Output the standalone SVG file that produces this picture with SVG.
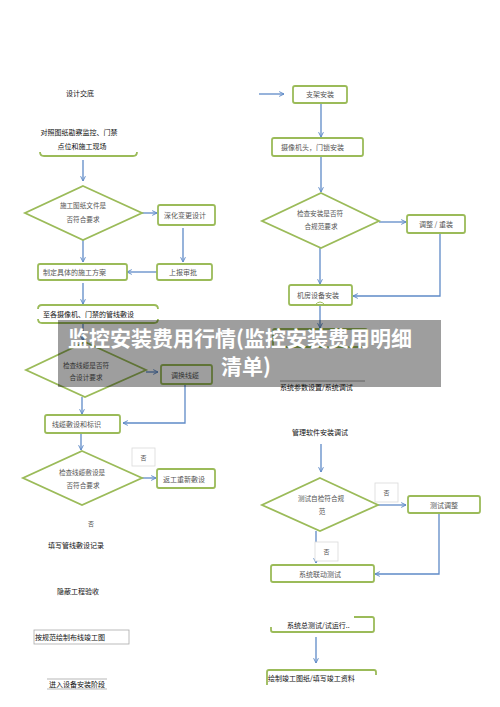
<svg xmlns="http://www.w3.org/2000/svg" width="500" height="707" viewBox="0 0 500 707">
<style>
.bx{fill:#fff;stroke:#9bbb59;stroke-width:1.8}
.gl{fill:none;stroke:#9bbb59;stroke-width:1.8}
.dm{fill:#fff;stroke:#9bbb59;stroke-width:1.8}
.cn{fill:none;stroke:#5f8ac7;stroke-width:1.3}
.t{font-family:"Noto Sans CJK SC","Noto Sans",sans-serif;font-size:7px;fill:#555}
.k{font-family:"Noto Sans CJK SC","Noto Sans",sans-serif;font-size:7px;fill:#111}
.m{text-anchor:middle}
.no{fill:#fff;stroke:#d9d9d9;stroke-width:0.8}
.bn{font-family:"Noto Sans CJK SC","Noto Sans",sans-serif;font-size:21px;font-weight:bold;fill:#fff;text-anchor:middle}
</style>
<defs>
<marker id="ah" viewBox="0 0 10 10" refX="9" refY="5" markerWidth="6" markerHeight="6" orient="auto" markerUnits="userSpaceOnUse">
<path d="M1,1 L9,5 L1,9" fill="none" stroke="#5f8ac7" stroke-width="1.6"/>
</marker>
</defs>

<g id="connectors">
<path class="cn" d="M259,94 H284" marker-end="url(#ah)"/>
<path class="cn" d="M83,160 V181" marker-end="url(#ah)"/>
<path class="cn" d="M142,213 H157" marker-end="url(#ah)"/>
<path class="cn" d="M183,228 V262" marker-end="url(#ah)"/>
<path class="cn" d="M157,272 H127" marker-end="url(#ah)"/>
<path class="cn" d="M83,240 V262" marker-end="url(#ah)"/>
<path class="cn" d="M83,283 V304" marker-end="url(#ah)"/>
<path class="cn" d="M83,323 V341" marker-end="url(#ah)"/>
<path class="cn" d="M146,372 H158" marker-end="url(#ah)"/>
<path class="cn" d="M185,384 V423 H123" marker-end="url(#ah)"/>
<path class="cn" d="M82,397 V414" marker-end="url(#ah)"/>
<path class="cn" d="M81,433 V450" marker-end="url(#ah)"/>
<path class="cn" d="M142,478 H156" marker-end="url(#ah)"/>
<path class="cn" d="M321,103 V137" marker-end="url(#ah)"/>
<path class="cn" d="M321,156 V192" marker-end="url(#ah)"/>
<path class="cn" d="M379,222 H406" marker-end="url(#ah)"/>
<path class="cn" d="M440,233 V296 H353" marker-end="url(#ah)"/>
<path class="cn" d="M320,248 V284" marker-end="url(#ah)"/>
<path class="cn" d="M320,305 V328" marker-end="url(#ah)"/>
<path class="cn" d="M321,444 V472" marker-end="url(#ah)"/>
<path class="cn" d="M378,505 H406" marker-end="url(#ah)"/>
<path class="cn" d="M439,513 V574 H375" marker-end="url(#ah)"/>
<path class="cn" d="M316,531 V563" marker-end="url(#ah)"/>
<path class="cn" d="M316,637 V663" marker-end="url(#ah)"/>
</g>

<g id="n-design"><text class="k m" x="80" y="95.5">设计交底</text></g>
<g id="n-survey">
<text class="k m" x="79" y="134.5">对照图纸勘察监控、门禁</text>
<text class="k m" x="82" y="148.5">点位和施工现场</text>
<path class="gl" d="M40,152 Q40,156 44,156 L133,156 Q137,156 137,152"/>
</g>
<g id="n-check-drawings">
<polygon class="dm" points="83,186 142,213 83,240 25,213"/>
<text class="t m" x="83" y="207.5" style="font-size:6.6px">施工图纸文件是</text>
<text class="t m" x="83" y="221.5" style="font-size:6.6px">否符合要求</text>
</g>
<g id="n-deepen"><rect class="bx" x="158" y="205" width="57" height="20" rx="2"/><text class="t m" x="185" y="218">深化变更设计</text></g>
<g id="n-approve"><rect class="bx" x="157" y="264" width="55" height="16" rx="2"/><text class="t m" x="183" y="274.5">上报审批</text></g>
<g id="n-plan"><rect class="bx" x="38" y="264" width="89" height="16" rx="2"/><text class="t" x="43" y="274.5">制定具体的施工方案</text></g>
<g id="n-conduit">
<path class="gl" d="M38,309 Q38,305 42,305 L154,305 Q158,305 158,309"/>
<path class="gl" d="M38,319 Q38,323 42,323 L154,323 Q158,323 158,319"/>
<text class="k" x="43" y="316.5">至各摄像机、门禁的管线敷设</text>
</g>
<g id="n-check-cable">
<polygon class="dm" points="85,342 146,370 85,397 26,370"/>
<text class="t m" x="86" y="367.5" style="font-size:6.6px">检查线缆是否符</text>
<text class="t m" x="86" y="379.5" style="font-size:6.6px">合设计要求</text>
</g>
<g id="n-swap"><rect class="bx" x="161" y="365" width="51" height="19" rx="2"/><text class="t m" x="185" y="377.5">调换线缆</text></g>
<g id="n-lay"><rect class="bx" x="45" y="415" width="75" height="18" rx="2"/><text class="t" x="52" y="426.5">线缆敷设和标识</text></g>
<g id="n-check-lay">
<polygon class="dm" points="82,451 142,478 82,505 23,478"/>
<text class="t m" x="82" y="474.5" style="font-size:6.6px">检查线缆敷设是</text>
<text class="t m" x="83" y="487.5" style="font-size:6.6px">否符合要求</text>
</g>
<g id="n-no1"><rect class="no" x="132" y="448" width="23" height="18"/><text class="t m" x="143.5" y="459.5" style="font-size:6px">否</text></g>
<g id="n-rework"><rect class="bx" x="157" y="469" width="58" height="19" rx="2"/><text class="t m" x="184" y="481.5">返工重新敷设</text></g>
<g id="n-no2"><text class="t m" x="91" y="526" style="font-size:6px">否</text></g>
<g id="n-record"><text class="k m" x="76" y="547.5">填写管线敷设记录</text></g>
<g id="n-hidden"><text class="k m" x="78" y="593.5">隐蔽工程验收</text></g>
<g id="n-asbuilt"><rect x="34" y="630" width="95" height="14" fill="#fff" stroke="#aaa" stroke-width="0.8"/><text class="k" x="35" y="639.5">按规范绘制布线竣工图</text></g>
<g id="n-enter">
<line x1="47" y1="679" x2="107" y2="679" stroke="#999" stroke-width="0.7"/>
<line x1="47" y1="689" x2="107" y2="689" stroke="#999" stroke-width="0.7"/>
<text class="k m" x="77" y="686.5">进入设备安装阶段</text>
</g>

<g id="n-bracket"><rect class="bx" x="293" y="86" width="54" height="17" rx="2"/><text class="t m" x="320" y="97">支架安装</text></g>
<g id="n-camera"><rect class="bx" x="272" y="138" width="91" height="18" rx="2"/><text class="t" x="281" y="149.5">摄像机头，门锁安装</text></g>
<g id="n-check-install">
<polygon class="dm" points="321,193 379,221 321,248 262,221"/>
<text class="t m" x="320" y="215.5" style="font-size:6.6px">检查安装是否符</text>
<text class="t m" x="321" y="228.5" style="font-size:6.6px">合规范要求</text>
</g>
<g id="n-adjust"><rect class="bx" x="407" y="215" width="58" height="18" rx="2"/><text class="t m" x="436" y="227">调整 / 重装</text></g>
<g id="n-room"><rect class="bx" x="289" y="285" width="63" height="20" rx="2"/><text class="t m" x="318" y="298">机房设备安装</text><path class="gl" d="M315,305 Q320,299 325,305" style="stroke-width:1"/></g>
<g id="n-hiddenbox"><rect class="bx" x="273" y="329" width="94" height="18" rx="2"/></g>
<g id="n-params">
<line x1="280" y1="381" x2="365" y2="381" stroke="#888" stroke-width="0.8"/>
<text class="k" x="280" y="389.5">系统参数设置/系统调试</text>
</g>
<g id="n-software"><text class="k m" x="320" y="434.5">管理软件安装调试</text></g>
<g id="n-selftest">
<polygon class="dm" points="320,478 378,505 320,531 262,505"/>
<text class="t m" x="321" y="500.5" style="font-size:6.6px">测试自检符合规</text>
<text class="t m" x="322" y="513.5" style="font-size:6.6px">范</text>
</g>
<g id="n-no3"><rect class="no" x="375" y="483" width="23" height="19"/><text class="t m" x="386.5" y="495" style="font-size:6px">否</text></g>
<g id="n-testadj"><rect class="bx" x="408" y="496" width="72" height="17" rx="2"/><text class="t m" x="444" y="507.5">测试调整</text></g>
<g id="n-no4"><rect class="no" x="315" y="542" width="23" height="19"/><text class="t m" x="326.5" y="554" style="font-size:6px">否</text></g>
<g id="n-linkage"><rect class="bx" x="271" y="565" width="103" height="17" rx="2"/><text class="t m" x="320" y="576.5">系统联动测试</text></g>
<g id="n-total">
<path class="gl" d="M354,617 H372 Q374,617 374,619 V630 Q374,632 372,632 H273 Q271,632 271,630 V627"/>
<text class="k" x="287" y="627.5">系统总测试/试运行..</text>
</g>
<g id="n-final">
<path class="gl" d="M267,685 V672 Q267,670 269,670 H374 Q376,670 376,672 V675"/>
<text class="k" x="268" y="680.5">绘制竣工图纸/填写竣工资料</text>
</g>

<g id="banner">
<rect x="58" y="320" width="383" height="67" fill="#000" opacity="0.38"/>
<text class="bn" x="240" y="346">监控安装费用行情(监控安装费用明细</text>
<text class="bn" x="246" y="374">清单)</text>
</g>
</svg>
